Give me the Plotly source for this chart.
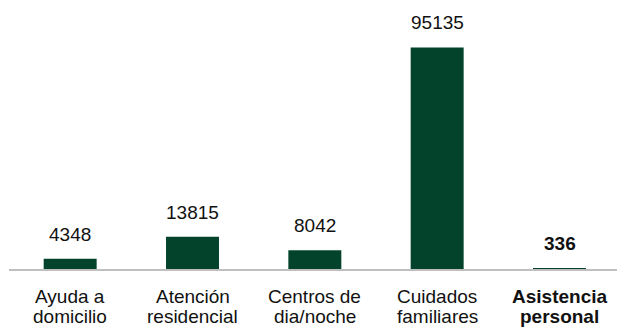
import plotly.graph_objects as go

categories = ["Ayuda a domicilio", "Atención residencial", "Centros de dia/noche",
              "Cuidados familiares", "Asistencia personal"]
tick_line1 = ["Ayuda a", "Atención", "Centros de", "Cuidados", "<b>Asistencia</b>"]
tick_line2 = ["domicilio", "residencial", "dia/noche", "familiares", "<b>personal</b>"]
values = [4348, 13815, 8042, 95135, 336]
value_labels = ["4348", "13815", "8042", "95135", "<b>336</b>"]

FONT = "Liberation Sans, Arial, Helvetica, sans-serif"
GREEN = "#03432B"
FS = 19

fig = go.Figure()
fig.add_trace(go.Bar(x=categories, y=values, marker=dict(color=GREEN, line=dict(width=0)),
                     hoverinfo="x+y"))

for c, v, t in zip(categories, values, value_labels):
    fig.add_annotation(x=c, y=v, text=t, showarrow=False, xanchor="center", yanchor="bottom",
                       yshift=12, font=dict(family=FONT, size=FS, color="#111111"))

for c, l1, l2 in zip(categories, tick_line1, tick_line2):
    fig.add_annotation(x=c, y=0, text=l1, showarrow=False, xanchor="center", yanchor="middle",
                       yshift=-27, font=dict(family=FONT, size=FS, color="#111111"))
    fig.add_annotation(x=c, y=0, text=l2, showarrow=False, xanchor="center", yanchor="middle",
                       yshift=-47, font=dict(family=FONT, size=FS, color="#111111"))

fig.update_layout(
    width=617, height=327,
    margin=dict(l=9, r=0, t=0, b=58),
    paper_bgcolor="white", plot_bgcolor="white",
    showlegend=False,
    bargap=0.567,
    font=dict(family=FONT, size=FS, color="#111111"),
    xaxis=dict(type="category", range=[-0.5, 4.47],
               showline=True, linecolor="#bfbfbf", linewidth=1.5,
               showgrid=False, ticks="", showticklabels=False),
    yaxis=dict(range=[0, 115500], visible=False, showgrid=False, zeroline=False),
)

fig.write_html("out.html")
